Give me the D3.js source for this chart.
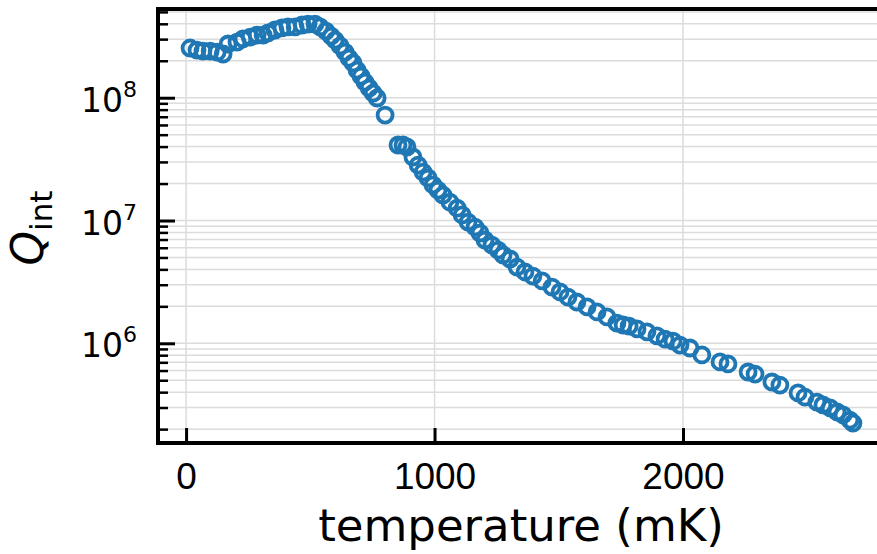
<!DOCTYPE html>
<html>
<head>
<meta charset="utf-8">
<script src="https://cdn.jsdelivr.net/npm/d3@7"></script>
<style>
   body { margin: 0; background: #fff; }
   svg { display: block; font-family: 'DejaVu Sans', sans-serif; }
</style>
</head>
<body>
<script>
// data
let temperature = [16, 44, 68, 97, 125, 149, 169, 205, 229, 258, 286, 310, 330, 358, 386, 410, 439, 467, 491, 519,
   539, 563, 584, 600, 620, 640, 656, 672, 688, 704, 720, 737, 753, 769, 801,
   853, 873, 889, 913, 934, 954, 974, 994, 1014, 1034, 1062, 1091, 1111, 1135, 1163, 1183, 1203, 1231, 1256, 1276,
   1304, 1332, 1364, 1396, 1433, 1473, 1505, 1537, 1573, 1614, 1654, 1694, 1734, 1759, 1783, 1815, 1855, 1895,
   1928, 1960, 1988, 2028, 2076, 2149, 2181, 2262, 2290, 2358, 2390, 2463, 2491, 2539, 2563, 2592, 2620, 2644,
   2672, 2684];
let qint = [2.54e8, 2.44e8, 2.40e8, 2.40e8, 2.35e8, 2.27e8, 2.74e8, 2.84e8, 3.01e8, 3.12e8, 3.24e8, 3.24e8, 3.37e8,
   3.56e8, 3.70e8, 3.77e8, 3.77e8, 3.91e8, 3.98e8, 3.98e8,
   3.77e8, 3.49e8, 3.18e8, 2.95e8, 2.64e8, 2.35e8, 2.10e8, 1.92e8, 1.68e8, 1.50e8, 1.34e8, 1.20e8, 1.09e8, 9.95e7, 7.23e7,
   4.12e7, 4.12e7, 3.97e7, 3.29e7, 2.83e7, 2.48e7, 2.22e7, 1.95e7, 1.77e7, 1.61e7, 1.41e7, 1.26e7, 1.11e7, 9.72e6,
   8.85e6, 7.91e6, 6.94e6, 6.31e6, 5.75e6, 5.24e6,
   4.86e6, 4.18e6, 3.81e6, 3.53e6, 3.22e6, 2.87e6, 2.62e6, 2.38e6, 2.17e6, 1.98e6, 1.80e6, 1.64e6, 1.46e6, 1.41e6,
   1.38e6, 1.31e6, 1.24e6, 1.15e6,
   1.08e6, 1.04e6, 9.68e5, 9.16e5, 8.04e5, 7.05e5, 6.79e5, 5.84e5, 5.62e5, 4.84e5, 4.57e5, 3.94e5, 3.65e5, 3.32e5,
   3.15e5, 2.98e5, 2.76e5, 2.61e5,
   2.37e5, 2.24e5];
let xTicks = [0, 1000, 2000];
let yMajorTicks = [1e6, 1e7, 1e8];
let yExponents = ['6', '7', '8'];

// canvas
let width = 877;
let height = 554;
let plotLeft = 158, plotRight = 884, plotTop = 9, plotBottom = 443;
let blue = '#1f77b4';

let svg = d3.select('body').append('svg')
   .attr('width', width)
   .attr('height', height);

let xScale = d3.scaleLinear()
   .domain([-113, 2809])
   .range([plotLeft, plotRight]);
let yScale = d3.scaleLog()
   .domain([1.542e5, 5.28e8])
   .range([plotBottom, plotTop]);

// minor ticks: 2..9 of each decade inside the domain
let yMinorTicks = yScale.ticks().filter(v => {
   let m = v / Math.pow(10, Math.floor(Math.log10(v) + 1e-9));
   return Math.abs(m - 1) > 1e-6;
});

// grid
let grid = svg.append('g');
grid.selectAll('line.gy')
   .data(yMinorTicks.concat(yMajorTicks))
   .enter()
   .append('line')
   .attr('x1', plotLeft).attr('x2', plotRight)
   .attr('y1', d => yScale(d)).attr('y2', d => yScale(d))
   .attr('stroke', '#dcdcdc')
   .attr('stroke-width', 1.5);
grid.selectAll('line.gx')
   .data(xTicks)
   .enter()
   .append('line')
   .attr('x1', d => xScale(d)).attr('x2', d => xScale(d))
   .attr('y1', plotTop).attr('y2', plotBottom)
   .attr('stroke', '#dcdcdc')
   .attr('stroke-width', 1.5);

// data points
svg.append('g')
   .selectAll('circle')
   .data(temperature.map((t, i) => [t, qint[i]]))
   .enter()
   .append('circle')
   .attr('cx', d => xScale(d[0]))
   .attr('cy', d => yScale(d[1]))
   .attr('r', 7.5)
   .attr('fill', 'none')
   .attr('stroke', blue)
   .attr('stroke-width', 3.8);

// axes (ticks pointing inward)
let xAxis = d3.axisBottom(xScale)
   .tickValues(xTicks)
   .tickSize(-15)
   .tickPadding(20)
   .tickFormat(d3.format('d'));
let gx = svg.append('g')
   .attr('transform', 'translate(0,' + plotBottom + ')')
   .call(xAxis);
gx.select('.domain').remove();
gx.selectAll('.tick line').attr('stroke', '#000').attr('stroke-width', 3);
gx.selectAll('.tick text')
   .attr('fill', '#000')
   .style('font-size', '37px')
   .attr('dy', '0.71em');

let yMinorAxis = d3.axisLeft(yScale)
   .tickValues(yMinorTicks)
   .tickSize(-10)
   .tickFormat('');
let gyMinor = svg.append('g')
   .attr('transform', 'translate(' + plotLeft + ',0)')
   .call(yMinorAxis);
gyMinor.select('.domain').remove();
gyMinor.selectAll('.tick line').attr('stroke', '#000').attr('stroke-width', 2.5);

let yAxis = d3.axisLeft(yScale)
   .tickValues(yMajorTicks)
   .tickSize(-17)
   .tickFormat('');
let gy = svg.append('g')
   .attr('transform', 'translate(' + plotLeft + ',0)')
   .call(yAxis);
gy.select('.domain').remove();
gy.selectAll('.tick line').attr('stroke', '#000').attr('stroke-width', 3);

// y tick labels 10^n
let ylab = svg.append('g')
   .selectAll('text')
   .data(yMajorTicks)
   .enter()
   .append('text')
   .attr('x', 137)
   .attr('y', d => yScale(d) + 14)
   .attr('text-anchor', 'end')
   .attr('fill', '#000')
   .style('font-size', '33px');
ylab.append('tspan').text('10');
ylab.append('tspan')
   .attr('dy', -15)
   .style('font-size', '22px')
   .text((d, i) => yExponents[i]);

// spines
svg.append('line')
   .attr('x1', plotLeft).attr('x2', plotLeft)
   .attr('y1', plotTop - 2).attr('y2', plotBottom + 2)
   .attr('stroke', '#000').attr('stroke-width', 4);
svg.append('line')
   .attr('x1', plotLeft - 2).attr('x2', plotRight)
   .attr('y1', plotTop).attr('y2', plotTop)
   .attr('stroke', '#000').attr('stroke-width', 4);
svg.append('line')
   .attr('x1', plotLeft - 2).attr('x2', plotRight)
   .attr('y1', plotBottom).attr('y2', plotBottom)
   .attr('stroke', '#000').attr('stroke-width', 4);

// axis captions
svg.append('text')
   .attr('x', (plotLeft + plotRight) / 2)
   .attr('y', 541)
   .attr('text-anchor', 'middle')
   .attr('fill', '#000')
   .style('font-size', '45px')
   .text('temperature (mK)');

let ycap = svg.append('text')
   .attr('transform', 'translate(43,' + ((plotTop + plotBottom) / 2 + 2) + ') rotate(-90)')
   .attr('text-anchor', 'middle')
   .attr('fill', '#000')
   .style('font-size', '44px');
ycap.append('tspan').style('font-style', 'italic').text('Q');
ycap.append('tspan').attr('dy', 9).style('font-size', '31px').text('int');
</script>
</body>
</html>
